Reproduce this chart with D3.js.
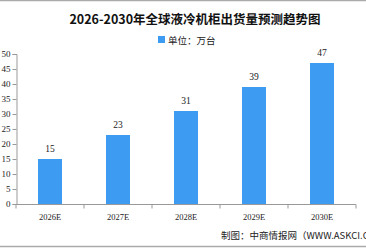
<!DOCTYPE html>
<html>
<head>
<meta charset="utf-8">
<script src="https://cdn.jsdelivr.net/npm/d3@7"></script>
<style>
  body { margin: 0; background: #fff; }
  svg { display: block; }
</style>
</head>
<body>
<svg id="chart" width="366" height="248"></svg>
<script>
var years = ["2026E", "2027E", "2028E", "2029E", "2030E"];
var values = [15, 23, 31, 39, 47];
var yTicks = [0, 5, 10, 15, 20, 25, 30, 35, 40, 45, 50];

var svg = d3.select("#chart");
var barColor = "#3d9cf2";
var cjk = "'Noto Sans CJK SC', sans-serif";
var tickFont = "'Liberation Serif', 'DejaVu Serif', serif";

// borders top and bottom
svg.append("line").attr("x1", 0).attr("x2", 366).attr("y1", 0.5).attr("y2", 0.5)
  .attr("stroke", "#aaa").attr("stroke-width", 1.5);
svg.append("line").attr("x1", 0).attr("x2", 366).attr("y1", 246.5).attr("y2", 246.5)
  .attr("stroke", "#aaa").attr("stroke-width", 1.5);

svg.append("text").attr("x", 195).attr("y", 24).attr("text-anchor", "middle")
  .attr("font-family", cjk).attr("font-weight", "bold").attr("font-size", 12.5)
  .attr("fill", "#111").text("2026-2030年全球液冷机柜出货量预测趋势图");

// legend
svg.append("rect").attr("x", 158).attr("y", 36).attr("width", 7).attr("height", 7).attr("fill", barColor);
svg.append("text").attr("x", 168).attr("y", 43.5)
  .attr("font-family", cjk).attr("font-size", 9.5).attr("fill", "#222").text("单位：万台");

var xScale = d3.scaleBand().domain(years).range([16, 356]).paddingInner(0).paddingOuter(0);
var yScale = d3.scaleLinear().domain([0, 50]).range([204, 54]);

var yAxis = d3.axisLeft(yScale).tickValues(yTicks).tickSize(4).tickPadding(2);
var gy = svg.append("g").attr("transform", "translate(16.5,0)").call(yAxis);
gy.select(".domain").attr("stroke", "#999");
gy.selectAll(".tick line").attr("stroke", "#999");
gy.selectAll("text").attr("font-family", tickFont).attr("font-size", 9).attr("fill", "#222");

// x axis
var gx = svg.append("g").attr("transform", "translate(0,204.5)");
gx.append("line").attr("x1", 16).attr("x2", 356).attr("stroke", "#999");
gx.selectAll(".xt").data(years.concat(["end"])).enter().append("line")
  .attr("x1", function (d, i) { return i < years.length ? xScale(d) : xScale.range()[1]; })
  .attr("x2", function (d, i) { return i < years.length ? xScale(d) : xScale.range()[1]; })
  .attr("y1", 0).attr("y2", 4).attr("stroke", "#999");
gx.selectAll(".xl").data(years).enter().append("text")
  .attr("x", function (d) { return xScale(d) + xScale.bandwidth() / 2; })
  .attr("y", 15).attr("text-anchor", "middle")
  .attr("font-family", tickFont).attr("font-size", 8.5).attr("fill", "#222")
  .text(function (d) { return d; });

var barW = 24;
svg.selectAll(".bar").data(values).enter().append("rect")
  .attr("x", function (d, i) { return xScale(years[i]) + xScale.bandwidth() / 2 - barW / 2; })
  .attr("y", function (d) { return yScale(d); })
  .attr("width", barW)
  .attr("height", function (d) { return yScale(0) - yScale(d); })
  .attr("fill", barColor);

svg.selectAll(".lbl").data(values).enter().append("text")
  .attr("x", function (d, i) { return xScale(years[i]) + xScale.bandwidth() / 2; })
  .attr("y", function (d) { return yScale(d) - 7; })
  .attr("text-anchor", "middle")
  .attr("font-family", tickFont).attr("font-size", 9.5).attr("fill", "#222")
  .text(function (d) { return d; });

svg.append("text").attr("x", 221).attr("y", 239)
  .attr("font-family", cjk).attr("font-size", 9.5).attr("fill", "#222")
  .text("制图：中商情报网（WWW.ASKCI.COM）");
</script>
</body>
</html>
